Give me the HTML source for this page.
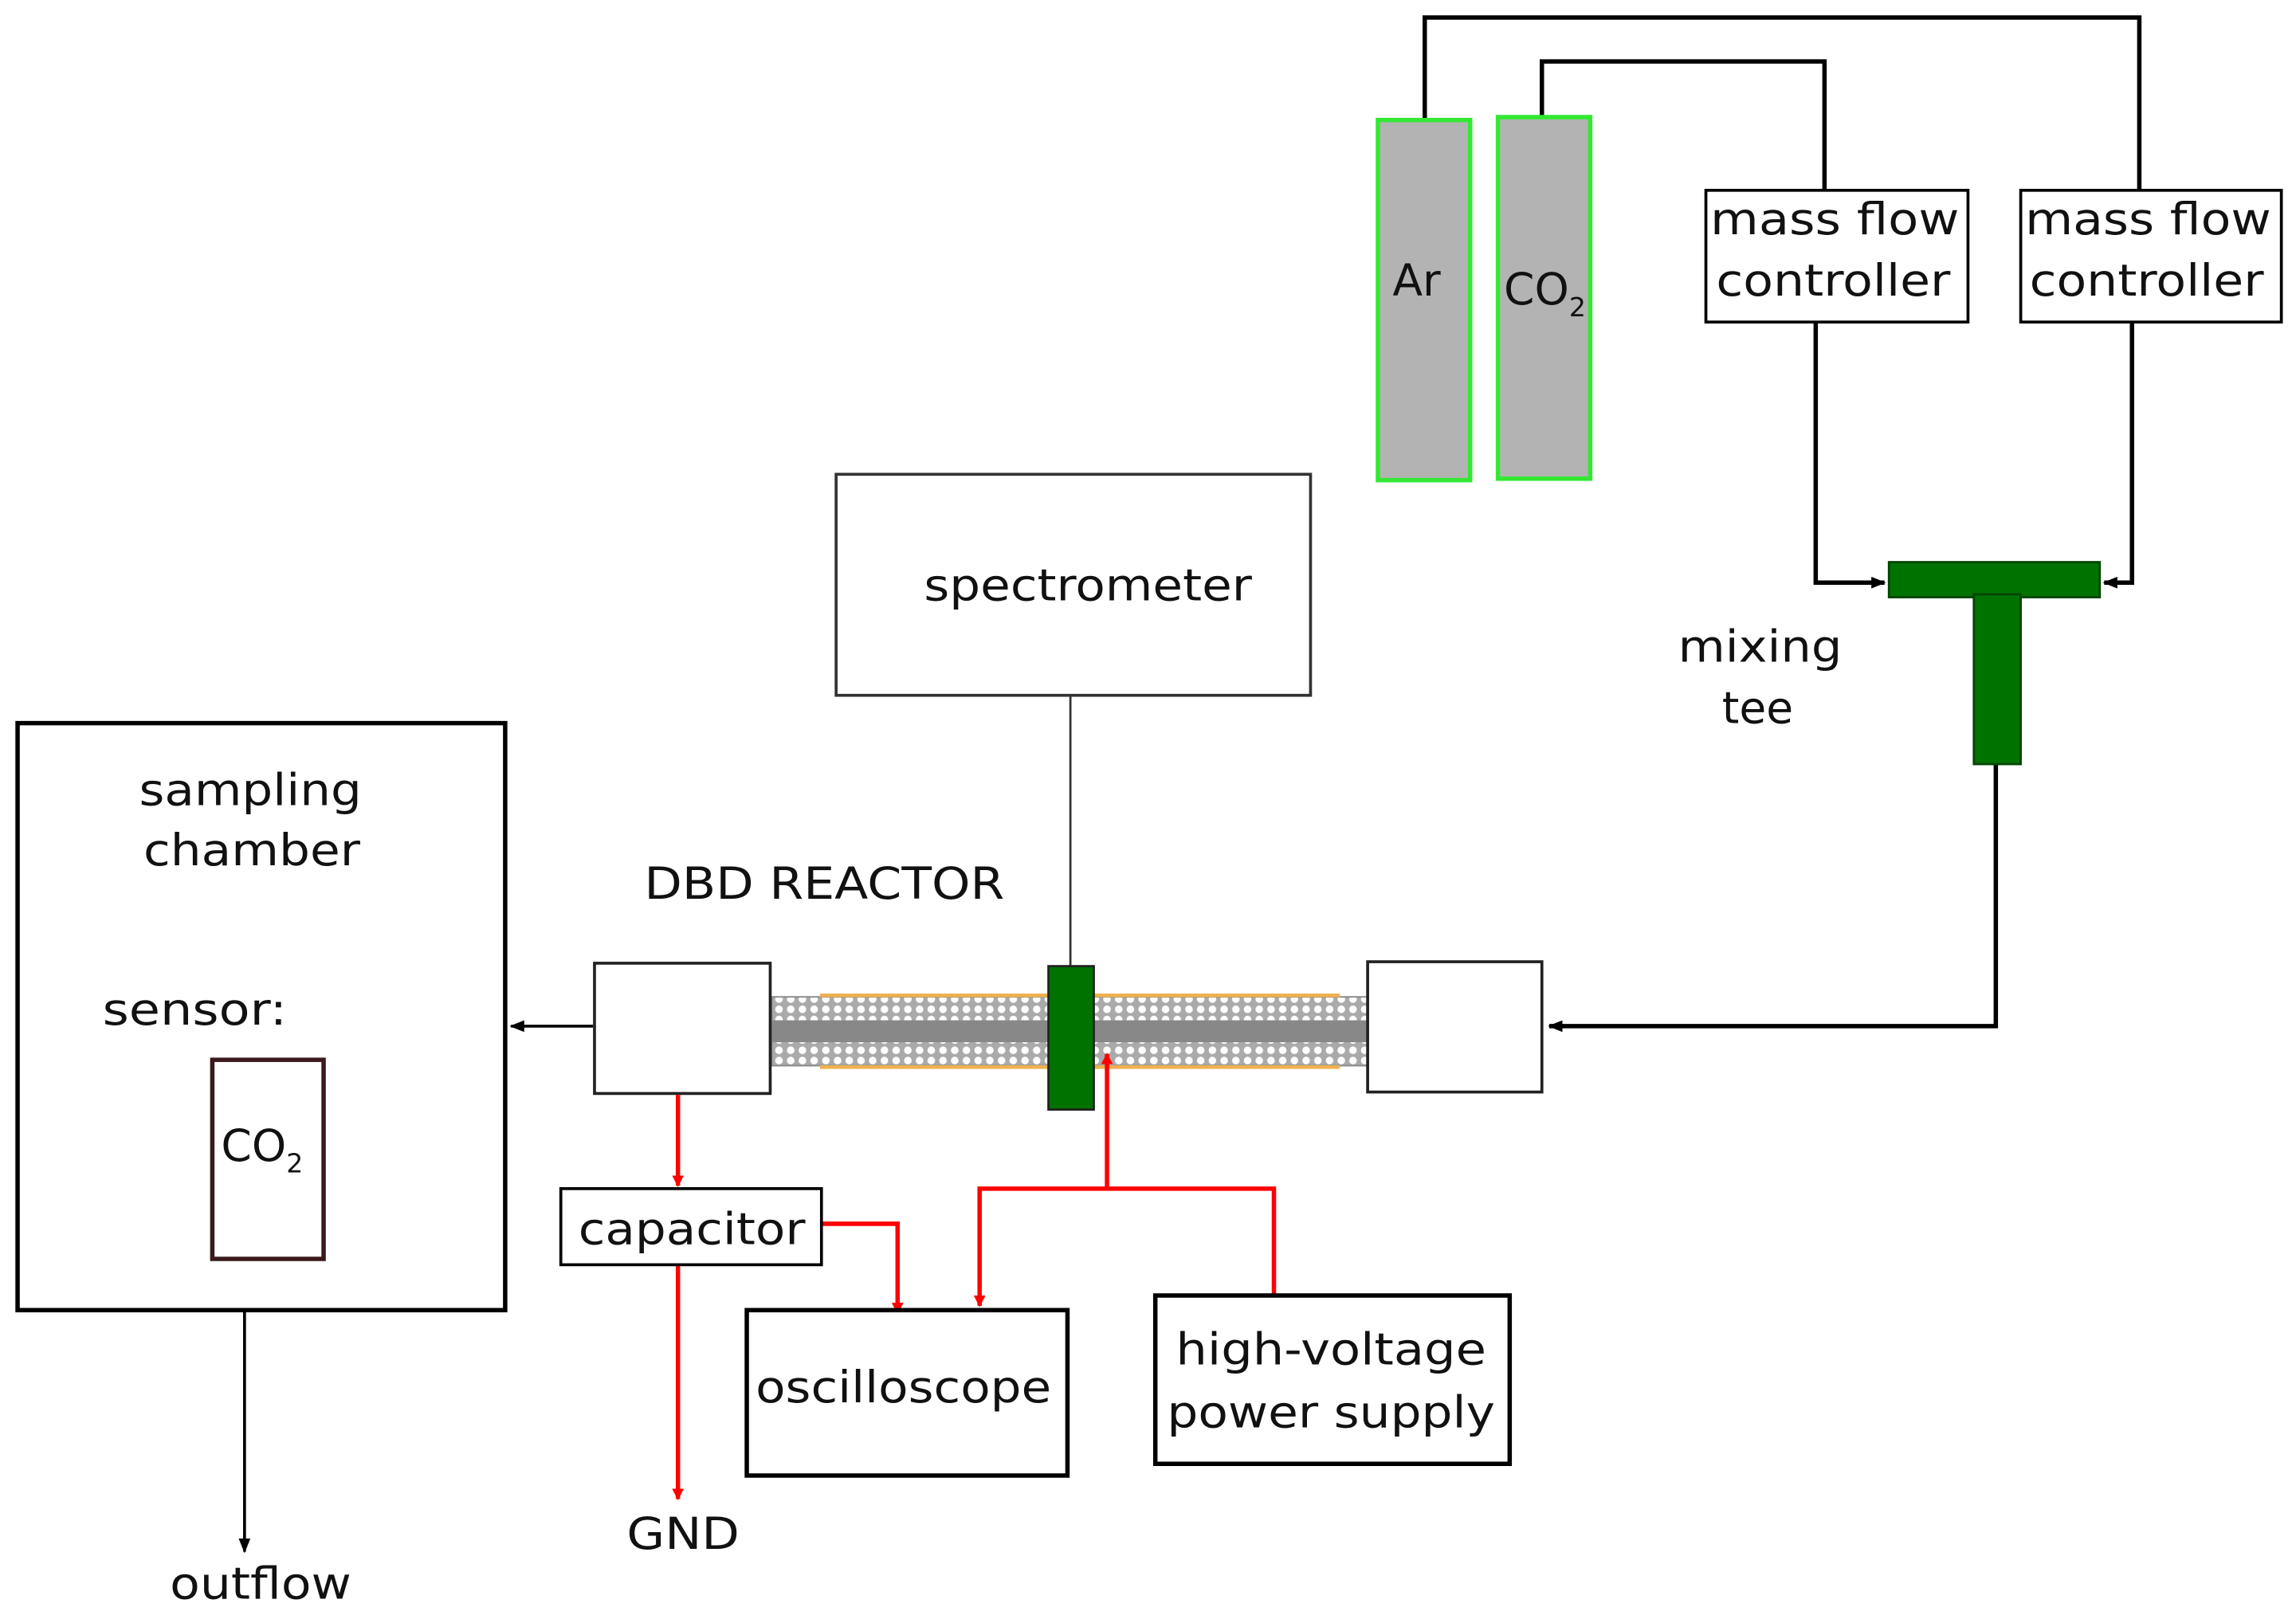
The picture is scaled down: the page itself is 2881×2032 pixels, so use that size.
<!DOCTYPE html>
<html><head><meta charset="utf-8"><style>html,body{margin:0;padding:0;background:#fff}svg{display:block}</style></head>
<body>
<svg width="2881" height="2032" viewBox="0 0 1568 1106" preserveAspectRatio="none" xmlns="http://www.w3.org/2000/svg">
<defs>
<marker id="ab" markerWidth="10" markerHeight="8" refX="9" refY="4" orient="auto" markerUnits="userSpaceOnUse"><path d="M0,0 L10,4 L0,8 Z" fill="#000"/></marker>
<marker id="ar" markerWidth="8" markerHeight="12" refX="7" refY="6" orient="auto" markerUnits="userSpaceOnUse"><path d="M0,2 L8,6 L0,10 Z" fill="#f00"/></marker>
<pattern id="mesh" width="8" height="7" patternUnits="userSpaceOnUse"><rect width="8" height="7" fill="#aaa"/><ellipse cx="4" cy="3.5" rx="2.6" ry="2.6" fill="#fff"/></pattern>
</defs>
<style>text{font-family:"DejaVu Sans","Liberation Sans",sans-serif;font-size:30px;fill:#111}</style>
<g fill="none" stroke="#000" stroke-width="3">
<polyline points="973,82 973,12 1461,12 1461,130"/>
<polyline points="1053,80 1053,42 1246,42 1246,130"/>
<polyline points="1240,220 1240,398 1287,398" marker-end="url(#ab)"/>
<polyline points="1456,220 1456,398 1437,398" marker-end="url(#ab)"/>
<polyline points="1363,522 1363,701 1058,701" marker-end="url(#ab)"/>
<line x1="405" y1="701" x2="349" y2="701" stroke-width="2" marker-end="url(#ab)"/>
<line x1="167" y1="895" x2="167" y2="1060" stroke-width="2" marker-end="url(#ab)"/>
</g>
<rect x="941" y="82" width="63" height="246" fill="#b3b3b3" stroke="#33e833" stroke-width="3"/>
<rect x="1023" y="80" width="63" height="247" fill="#b3b3b3" stroke="#33e833" stroke-width="3"/>
<text x="951" y="202">Ar</text>
<text x="1027" y="208">CO<tspan font-size="18" dy="8">2</tspan></text>
<rect x="1165" y="130" width="179" height="90" fill="#fff" stroke="#000" stroke-width="2"/>
<rect x="1380" y="130" width="178" height="90" fill="#fff" stroke="#000" stroke-width="2"/>
<text x="1168" y="160" textLength="170" lengthAdjust="spacingAndGlyphs">mass flow</text>
<text x="1172" y="202" textLength="160" lengthAdjust="spacingAndGlyphs">controller</text>
<text x="1383" y="160" textLength="168" lengthAdjust="spacingAndGlyphs">mass flow</text>
<text x="1386" y="202" textLength="160" lengthAdjust="spacingAndGlyphs">controller</text>
<rect x="1290" y="384" width="144" height="24" fill="#007200" stroke="#004400" stroke-width="1.5"/>
<rect x="1348" y="406" width="32" height="116" fill="#007200" stroke="#004400" stroke-width="1.5"/>
<text x="1146" y="452" textLength="112" lengthAdjust="spacingAndGlyphs">mixing</text>
<text x="1176" y="494">tee</text>
<rect x="571" y="324" width="324" height="151" fill="#fff" stroke="#333" stroke-width="2"/>
<text x="631" y="410" textLength="224" lengthAdjust="spacingAndGlyphs">spectrometer</text>
<line x1="731" y1="475" x2="731" y2="661" stroke="#333" stroke-width="1.5"/>
<text x="440" y="614" textLength="246" lengthAdjust="spacingAndGlyphs">DBD REACTOR</text>
<rect x="527" y="681" width="407" height="47" fill="url(#mesh)" stroke="#888" stroke-width="1"/>
<rect x="527" y="697" width="407" height="15" fill="#888"/>
<line x1="560" y1="680" x2="915" y2="680" stroke="#f0b050" stroke-width="2.5"/>
<line x1="560" y1="729" x2="915" y2="729" stroke="#f0b050" stroke-width="2.5"/>
<rect x="406" y="658" width="120" height="89" fill="#fff" stroke="#222" stroke-width="2"/>
<rect x="934" y="657" width="119" height="89" fill="#fff" stroke="#222" stroke-width="2"/>
<rect x="716" y="660" width="31" height="98" fill="#007200" stroke="#222" stroke-width="1.5"/>
<rect x="12" y="494" width="333" height="401" fill="#fff" stroke="#000" stroke-width="3"/>
<text x="95" y="550" textLength="152" lengthAdjust="spacingAndGlyphs">sampling</text>
<text x="98" y="591" textLength="148" lengthAdjust="spacingAndGlyphs">chamber</text>
<text x="70" y="700" textLength="126" lengthAdjust="spacingAndGlyphs">sensor:</text>
<rect x="145" y="724" width="76" height="136" fill="#fff" stroke="#3a1a1a" stroke-width="3"/>
<text x="151" y="793">CO<tspan font-size="18" dy="8">2</tspan></text>
<text x="116" y="1092" textLength="124" lengthAdjust="spacingAndGlyphs">outflow</text>
<g fill="none" stroke="#f00" stroke-width="3">
<line x1="463" y1="748" x2="463" y2="810" marker-end="url(#ar)"/>
<polyline points="561,836 613,836 613,897" marker-end="url(#ar)"/>
<line x1="463" y1="864" x2="463" y2="1024" marker-end="url(#ar)"/>
<polyline points="870,885 870,812 669,812 669,892" marker-end="url(#ar)"/>
<line x1="756" y1="812" x2="756" y2="720" marker-end="url(#ar)"/>
</g>
<rect x="383" y="812" width="178" height="52" fill="#fff" stroke="#000" stroke-width="2"/>
<text x="395" y="850" textLength="155" lengthAdjust="spacingAndGlyphs">capacitor</text>
<rect x="510" y="895" width="219" height="113" fill="#fff" stroke="#000" stroke-width="3"/>
<text x="516" y="958" textLength="202" lengthAdjust="spacingAndGlyphs">oscilloscope</text>
<rect x="789" y="885" width="242" height="115" fill="#fff" stroke="#000" stroke-width="3"/>
<text x="803" y="932" textLength="212" lengthAdjust="spacingAndGlyphs">high-voltage</text>
<text x="797" y="975" textLength="224" lengthAdjust="spacingAndGlyphs">power supply</text>
<text x="428" y="1058" textLength="77" lengthAdjust="spacingAndGlyphs">GND</text>
</svg>
</body></html>
